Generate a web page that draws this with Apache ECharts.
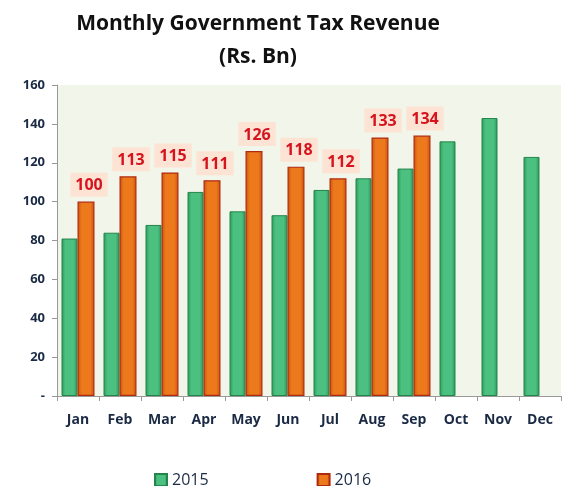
<!DOCTYPE html>
<html><head><meta charset="utf-8">
<script src="https://cdn.jsdelivr.net/npm/echarts@6/dist/echarts.min.js"></script>
<style>html,body{margin:0;padding:0;background:#fff}#c{width:562px;height:486px}</style>
</head><body><div id="c"></div>
<script>
const categories = ['Jan','Feb','Mar','Apr','May','Jun','Jul','Aug','Sep','Oct','Nov','Dec'];
const rev2015 = [81, 84, 88, 105, 95, 93, 106, 112, 117, 131, 143, 123];
const rev2016 = [100, 113, 115, 111, 126, 118, 112, 133, 134, null, null, null];
const yTicks = [0, 20, 40, 60, 80, 100, 120, 140, 160];

const F = '"Open Sans", "Noto Sans", sans-serif';
function grad(edge, mid){
  return {type:'linear',x:0,y:0,x2:1,y2:0,colorStops:[
    {offset:0,color:edge},{offset:0.25,color:mid},{offset:0.75,color:mid},{offset:1,color:edge}]};
}
const chart = echarts.init(document.getElementById('c'));
chart.setOption({
  animation:false,
  title:{
    text:'Monthly Government Tax Revenue\n(Rs. Bn)',
    left:253, top:3, textAlign:'center',
    textStyle:{fontFamily:F,fontWeight:'bold',fontSize:21,color:'#111',lineHeight:33}
  },
  legend:{
    top:467, left:149, itemGap:108, itemWidth:12, itemHeight:12,
    icon:'rect',
    textStyle:{fontFamily:F,fontSize:16,color:'#1a2a44'},
    data:['2015','2016']
  },
  grid:{left:57,right:1,top:85,bottom:90,containLabel:false,
    show:true, backgroundColor:'#f2f5ea', borderWidth:0},
  xAxis:{
    type:'category', data:categories, boundaryGap:true,
    axisLine:{lineStyle:{color:'#999'}},
    axisTick:{show:true,length:5,lineStyle:{color:'#999'}},
    axisLabel:{fontFamily:F,fontWeight:'bold',fontSize:14,color:'#1a2a44',margin:17}
  },
  yAxis:{
    type:'value', min:0, max:160, interval:20,
    axisLine:{show:true,lineStyle:{color:'#999'}},
    axisTick:{show:true,length:5,lineStyle:{color:'#999'}},
    splitLine:{show:false},
    axisLabel:{fontFamily:F,fontWeight:'bold',fontSize:13,color:'#1a2a44',margin:12,
      formatter:v=> yTicks.indexOf(v)===0 ? '-' : String(v)}
  },
  series:[
    {name:'2015', type:'bar', data:rev2015, barWidth:16, barGap:'0%',
      itemStyle:{color:grad('#2c9858','#4cc081'), borderColor:'#23854a', borderWidth:1}},
    {name:'2016', type:'bar', data:rev2016, barWidth:17,
      itemStyle:{color:grad('#c9520e','#ec7a1c'), borderColor:'#b02a10', borderWidth:1.2},
      label:{show:true, position:'top', distance:5, offset:[3,0],
        fontFamily:F, fontWeight:'bold', fontSize:16, color:'#d5141e',
        backgroundColor:'#fde3d3', padding:[5,5,3,5]}}
  ]
});
</script></body></html>
